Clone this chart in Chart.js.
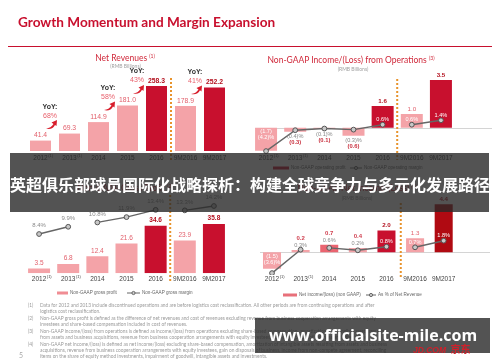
<!DOCTYPE html>
<html><head><meta charset="utf-8">
<script src="https://cdn.jsdelivr.net/npm/chart.js@4.4.0/dist/chart.umd.min.js"></script>
<style>
html,body{margin:0;padding:0;background:#fff;width:500px;height:362px;overflow:hidden;}
body{position:relative;font-family:Lato,"Liberation Sans",sans-serif;}
canvas{position:absolute;left:0;top:0;}
.a{position:absolute;white-space:nowrap;line-height:1.2;transform:translateY(-50%);}
.cx{transform:translate(-50%,-50%);}
.ct{color:#d0283a;font-size:8.5px;}
.ct sup{font-size:5px;vertical-align:3px;line-height:0;}
.rmb{color:#a0a0a0;font-size:5px;}
.fn{position:absolute;white-space:nowrap;font-size:4.8px;line-height:6px;color:#9a9a9a;}
</style></head>
<body>
<canvas id="c1" width="500" height="362"></canvas>
<canvas id="c2" width="500" height="362"></canvas>
<canvas id="c3" width="500" height="362"></canvas>
<canvas id="c4" width="500" height="362"></canvas>

<div class="a" style="left:18px;top:21.5px;font-size:13.6px;font-weight:bold;color:#c8102e;">Growth Momentum and Margin Expansion</div>
<div style="position:absolute;left:8px;top:45.8px;width:484px;height:1.6px;background:#c8102e;"></div>

<div class="a cx ct" style="left:125px;top:57.5px;">Net Revenues <sup>(1)</sup></div>
<div class="a cx rmb" style="left:125.5px;top:66px;">(RMB Billions)</div>
<div class="a cx ct" style="left:351px;top:60px;">Non-GAAP Income/(Loss) from Operations <sup>(3)</sup></div>
<div class="a cx rmb" style="left:353px;top:69px;">(RMB Billions)</div>
<div class="a cx ct" style="left:125px;top:188px;">Non-GAAP Gross Profit <sup>(2)</sup></div>
<div class="a cx ct" style="left:357px;top:188px;">Non-GAAP Net Income/(Loss) <sup>(4)</sup></div>
<div class="a cx rmb" style="left:357px;top:198px;">(RMB Billions)</div>

<div class="fn" style="left:28px;top:302px;">(1)</div>
<div class="fn" style="left:40px;top:302px;">Data for 2012 and 2013 include discontinued operations and are before logistics cost reclassification. All other periods are from continuing operations and after</div>
<div class="fn" style="left:40px;top:308px;">logistics cost reclassification.</div>
<div class="fn" style="left:28px;top:315px;">(2)</div>
<div class="fn" style="left:40px;top:315px;">Non-GAAP gross profit is defined as the difference of net revenues and cost of revenues excluding revenue from business cooperation arrangements with equity</div>
<div class="fn" style="left:40px;top:321px;">investees and share-based compensation included in cost of revenues.</div>
<div class="fn" style="left:28px;top:328px;">(3)</div>
<div class="fn" style="left:40px;top:328px;">Non-GAAP income/(loss) from operations is defined as income/(loss) from operations excluding share-based compensation, amortization of intangible assets resulting</div>
<div class="fn" style="left:40px;top:334px;">from assets and business acquisitions, revenue from business cooperation arrangements with equity investees, gain on disposals of business and other items.</div>
<div class="fn" style="left:28px;top:341px;">(4)</div>
<div class="fn" style="left:40px;top:341px;">Non-GAAP net income/(loss) is defined as net income/(loss) excluding share-based compensation, amortization of intangible assets resulting from assets and business</div>
<div class="fn" style="left:40px;top:347px;">acquisitions, revenue from business cooperation arrangements with equity investees, gain on disposals of business, income from non-compete agreement, reconciling</div>
<div class="fn" style="left:40px;top:353px;">items on the share of equity method investments, impairment of goodwill, intangible assets and investments.</div>
<div class="a" style="left:19px;top:355px;font-size:7px;color:#aaa;">5</div>

<div style="position:absolute;left:10px;top:153px;width:479px;height:59px;background:rgba(40,40,40,0.8);z-index:5;"></div>
<div class="a" style="left:10px;top:185px;font-family:'Noto Sans CJK SC';font-weight:bold;font-size:16px;color:#fff;z-index:6;">英超俱乐部球员国际化战略探析：构建全球竞争力与多元化发展路径</div>

<div style="position:absolute;left:255px;top:318px;width:235px;height:35px;background:rgba(40,40,40,0.8);z-index:5;"></div>
<div class="a cx" style="left:373px;top:336px;font-family:'Open Sans';font-weight:bold;font-size:16px;color:#fff;z-index:6;">www.officialsite-mile.com</div>
<div class="a" style="left:413px;top:348px;font-weight:bold;color:#d0202a;font-family:'Liberation Sans';z-index:6;"><span style="font-size:8.5px;font-style:italic;">JD.COM</span> <span style="font-size:10px;font-family:'Noto Sans CJK SC';">京东</span></div>

<script>
// ---------- data ----------
const periods = ['2012','2013','2014','2015','2016','9M2016','9M2017'];
const periodNotes = ['(1)','(1)','','','','',''];
const netRevenues = [41.4, 69.3, 114.9, 181.0, 258.3, 178.9, 252.2];
const revenueYoY = [null, 68, null, 58, 43, null, 41];
const opIncome = [-1.7, -0.3, -0.1, -0.6, 1.6, 1.0, 3.5];
const opMargin = [-4.2, -0.4, -0.1, -0.3, 0.6, 0.6, 1.4];
const grossProfit = [3.5, 6.8, 12.4, 21.6, 34.6, 23.9, 35.8];
const grossMargin = [8.4, 9.9, 10.8, 11.9, 13.4, 13.3, 14.2];
const netIncome = [-1.5, 0.2, 0.7, 0.4, 2.0, 1.3, 4.4];
const netMargin = [-3.6, 0.3, 0.6, 0.2, 0.8, 0.7, 1.8];

// ---------- style ----------
const PINK = '#f4a3a8', DARK = '#c8102e', DARKER = '#b00a12', MID = '#ea6470';
const LBL_LIGHT = '#e2606c', LBL_DARK = '#b3101e';
const F = '"Liberation Sans", Arial, sans-serif';
const isHi = i => i === 4 || i === 6;

function t(ctx, s, x, y, font, color, align) {
  ctx.save(); ctx.font = font; ctx.fillStyle = color;
  ctx.textAlign = align || 'center'; ctx.textBaseline = 'middle';
  ctx.fillText(s, x, y); ctx.restore();
}
const fmtV = v => v < 0 ? '(' + Math.abs(v).toFixed(1) + ')' : v.toFixed(1);
const fmtP = v => v < 0 ? '(' + Math.abs(v).toFixed(1) + ')%' : v.toFixed(1) + '%';

function drawPeriods(chart, y) {
  const ctx = chart.ctx, xs = chart.scales.x;
  periods.forEach((p, i) => {
    const cx = xs.getPixelForValue(i);
    t(ctx, p, cx, y, '6.5px ' + F, '#444');
    if (periodNotes[i]) {
      ctx.save(); ctx.font = '6.5px ' + F; const w = ctx.measureText(p).width; ctx.restore();
      t(ctx, periodNotes[i], cx + w / 2 + 0.5, y - 2.5, '4px ' + F, '#444', 'left');
    }
  });
}
function separator(chart, y0, y1) {
  const ctx = chart.ctx, xs = chart.scales.x;
  const sx = (xs.getPixelForValue(4) + xs.getPixelForValue(5)) / 2;
  ctx.save(); ctx.strokeStyle = '#e8932c'; ctx.lineWidth = 2; ctx.setLineDash([2, 2]);
  ctx.beginPath(); ctx.moveTo(sx, y0); ctx.lineTo(sx, y1); ctx.stroke(); ctx.restore();
}
function zeroLine(chart, x0, x1) {
  const ctx = chart.ctx, yy = Math.round(chart.scales.y.getPixelForValue(0)) + 0.5;
  ctx.save(); ctx.strokeStyle = '#d4d4d4'; ctx.lineWidth = 1;
  ctx.beginPath(); ctx.moveTo(x0, yy); ctx.lineTo(x1, yy); ctx.stroke(); ctx.restore();
}
function legend(ctx, y, sw, swColor, txt1, lineX, txt2) {
  ctx.save();
  ctx.fillStyle = swColor; ctx.fillRect(sw[0], y - 1.5, sw[1] - sw[0], 3);
  t(ctx, txt1, sw[1] + 2, y, '4.6px ' + F, '#666', 'left');
  ctx.strokeStyle = '#666'; ctx.lineWidth = 1;
  ctx.beginPath(); ctx.moveTo(lineX[0], y); ctx.lineTo(lineX[1], y); ctx.stroke();
  ctx.beginPath(); ctx.arc((lineX[0] + lineX[1]) / 2, y, 1.6, 0, Math.PI * 2);
  ctx.fillStyle = '#ccc'; ctx.fill(); ctx.stroke();
  t(ctx, txt2, lineX[1] + 2, y, '4.6px ' + F, '#666', 'left');
  ctx.restore();
}
function arrow(ctx, x, y) {
  ctx.save(); ctx.fillStyle = '#d81e2c'; ctx.beginPath();
  ctx.moveTo(x - 6, y + 4);
  ctx.quadraticCurveTo(x - 1, y + 3.5, x + 1.5, y - 0.5);
  ctx.lineTo(x - 0.5, y - 2);
  ctx.lineTo(x + 5, y - 4.5);
  ctx.lineTo(x + 4.5, y + 1.5);
  ctx.lineTo(x + 3, y + 0.3);
  ctx.quadraticCurveTo(x + 0.5, y + 5.5, x - 6, y + 4);
  ctx.fill(); ctx.restore();
}

function makeChart(id, cfg) {
  const datasets = [];
  if (cfg.line) datasets.push({
    type: 'line', data: cfg.line, yAxisID: 'y2', borderColor: '#666', borderWidth: 1.4,
    pointRadius: 2.4, pointBackgroundColor: '#c8c8c8', pointBorderColor: '#555', pointBorderWidth: 1,
    fill: false, tension: 0,
    segment: { borderColor: c => cfg.gaps.includes(c.p0DataIndex) ? 'rgba(0,0,0,0)' : '#666' }
  });
  datasets.push({ type: 'bar', data: cfg.bars, yAxisID: 'y', backgroundColor: cfg.colors,
    barPercentage: cfg.barPct, categoryPercentage: 1, borderWidth: 0 });
  const scales = {
    x: { display: false, grid: { display: false } },
    y: { display: false, min: cfg.y[0], max: cfg.y[1] }
  };
  if (cfg.line) scales.y2 = { display: false, position: 'right', min: cfg.y2[0], max: cfg.y2[1] };
  return new Chart(document.getElementById(id), {
    type: 'bar',
    data: { labels: periods, datasets },
    options: {
      responsive: false, animation: false, events: [],
      layout: { padding: cfg.pad },
      plugins: { legend: { display: false }, tooltip: { enabled: false }, title: { display: false } },
      scales
    },
    plugins: [{
      id: 'deco_' + id,
      beforeDatasetsDraw(chart) { if (cfg.before) cfg.before(chart); },
      afterDatasetsDraw(chart) { cfg.after(chart); }
    }]
  });
}

// ---------- 1: Net revenues ----------
makeChart('c1', {
  pad: { left: 26, right: 271, top: 70, bottom: 211 },
  bars: netRevenues, colors: netRevenues.map((v, i) => isHi(i) ? DARK : PINK),
  barPct: 0.724, y: [0, 322],
  after(chart) {
    const ctx = chart.ctx, m = chart.getDatasetMeta(0);
    separator(chart, 78, 160);
    netRevenues.forEach((v, i) => {
      const b = m.data[i];
      t(ctx, fmtV(v), b.x, b.y - 5, (isHi(i) ? 'bold ' : '') + '6.8px ' + F, isHi(i) ? LBL_DARK : LBL_LIGHT);
    });
    revenueYoY.forEach((g, i) => {
      if (g == null) return;
      const p = m.data[i - 1], c = m.data[i];
      const x = (p.x + c.x) / 2 - 5, y = p.y - 34;
      t(ctx, 'YoY:', x, y, 'bold 7px ' + F, '#333');
      t(ctx, g + '%', x, y + 9, '7px ' + F, '#e8606c');
      arrow(ctx, x + 2, y + 18);
    });
    drawPeriods(chart, 158);
  }
});

// ---------- 2: Non-GAAP income from operations ----------
makeChart('c2', {
  pad: { left: 251.5, right: 44.5, top: 70, bottom: 202 },
  bars: opIncome, colors: opIncome.map((v, i) => isHi(i) ? DARK : PINK),
  barPct: 0.755, y: [-2.375, 4.243],
  line: opMargin, y2: [-5.818, 10.545], gaps: [4],
  before(chart) { zeroLine(chart, 255, 492); },
  after(chart) {
    const ctx = chart.ctx, bm = chart.getDatasetMeta(1), lm = chart.getDatasetMeta(0);
    separator(chart, 79, 160);
    opIncome.forEach((v, i) => {
      const b = bm.data[i], p = lm.data[i], m = opMargin[i];
      if (v >= 0) {
        t(ctx, fmtV(v), b.x, b.y - 5, (isHi(i) ? 'bold ' : '') + '6.2px ' + F, isHi(i) ? LBL_DARK : LBL_LIGHT);
        t(ctx, fmtP(m), b.x, p.y - 5, '5.6px ' + F, '#fff');
      } else if (b.y - b.base > 15) {
        t(ctx, fmtV(v), b.x, b.base + 3.8, '5.6px ' + F, '#fff');
        t(ctx, fmtP(m), b.x, b.base + 9.5, '5.6px ' + F, '#fff');
      } else {
        t(ctx, fmtP(m), b.x, b.y + 5, '5.6px ' + F, '#888');
        t(ctx, fmtV(v), b.x, b.y + 11, 'bold 5.8px ' + F, '#c8303e');
      }
    });
    drawPeriods(chart, 158);
    legend(ctx, 168, [273, 289], DARK, 'Non-GAAP operating profit', [350, 362], 'Non-GAAP operating margin');
  }
});

// ---------- 3: Non-GAAP gross profit ----------
makeChart('c3', {
  pad: { left: 24.5, right: 271.5, top: 195, bottom: 88.7 },
  bars: grossProfit, colors: grossProfit.map((v, i) => isHi(i) ? DARK : PINK),
  barPct: 0.755, y: [0, 56.9],
  line: grossMargin, y2: [0.269, 16.48], gaps: [1, 4],
  after(chart) {
    const ctx = chart.ctx, bm = chart.getDatasetMeta(1), lm = chart.getDatasetMeta(0);
    separator(chart, 195, 281);
    grossProfit.forEach((v, i) => {
      const b = bm.data[i], p = lm.data[i];
      t(ctx, fmtV(v), b.x, b.y - 5.5, (isHi(i) ? 'bold ' : '') + '6.5px ' + F, isHi(i) ? LBL_DARK : LBL_LIGHT);
      t(ctx, fmtP(grossMargin[i]), p.x, p.y - 8.5, '6px ' + F, '#8a8a8a');
    });
    drawPeriods(chart, 279.3);
    legend(ctx, 293, [57, 68], '#f08d94', 'Non-GAAP gross profit', [127, 140], 'Non-GAAP gross margin');
  }
});

// ---------- 4: Non-GAAP net income ----------
makeChart('c4', {
  pad: { left: 257.7, right: 42, top: 195, bottom: 87 },
  bars: netIncome,
  colors: netIncome.map((v, i) => i === 6 ? DARKER : i === 4 ? DARK : i === 2 ? MID : PINK),
  barPct: 0.63, y: [-2.083, 5.257],
  line: netMargin, y2: [-3.917, 9.417], gaps: [1, 4],
  before(chart) { zeroLine(chart, 260, 490); },
  after(chart) {
    const ctx = chart.ctx, bm = chart.getDatasetMeta(1), lm = chart.getDatasetMeta(0);
    separator(chart, 203, 278);
    netIncome.forEach((v, i) => {
      const b = bm.data[i], p = lm.data[i], m = netMargin[i];
      if (v < 0) {
        t(ctx, fmtV(v), b.x, b.base + 4, '5.6px ' + F, '#fff');
        t(ctx, fmtP(m), b.x, b.base + 10, '5.6px ' + F, '#fff');
      } else if (b.base - b.y > 12) {
        t(ctx, fmtV(v), b.x, b.y - 5, (isHi(i) ? 'bold ' : '') + '6.2px ' + F, isHi(i) ? LBL_DARK : LBL_LIGHT);
        t(ctx, fmtP(m), b.x, p.y - 5, '5.6px ' + F, '#fff');
      } else {
        t(ctx, fmtP(m), b.x, b.y - 4.5, '5.6px ' + F, '#8a8a8a');
        t(ctx, fmtV(v), b.x, b.y - 11.5, 'bold 6px ' + F, '#d04050');
      }
    });
    drawPeriods(chart, 279.3);
    legend(ctx, 295, [283, 297], '#e8707a', 'Net income/(loss) (non GAAP)', [366, 376], 'As % of Net Revenue');
  }
});
</script>
</body></html>
